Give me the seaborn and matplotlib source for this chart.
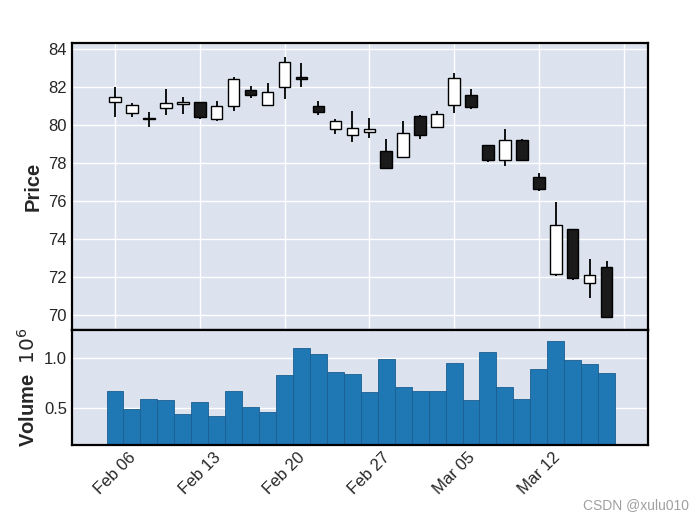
import matplotlib
matplotlib.use("Agg")
import numpy as np
import pandas as pd
import matplotlib.pyplot as plt
import seaborn as sns

# daily OHLC (30 trading days, Feb 06 - Mar 17)
opens = [81.21, 80.63, 80.37, 80.89, 81.11, 81.23, 80.35, 81.02, 81.86, 81.05,
         82.00, 82.53, 81.02, 79.82, 79.47, 79.63, 78.65, 78.32, 80.47, 79.89,
         81.05, 81.61, 78.95, 78.17, 79.21, 77.26, 72.15, 74.52, 71.68, 72.53]
highs = [82.00, 81.19, 80.68, 81.89, 81.47, 81.25, 81.26, 82.53, 82.09, 82.25,
         83.61, 83.26, 81.30, 80.32, 80.77, 80.40, 79.30, 80.21, 80.54, 80.77,
         82.77, 81.93, 78.98, 79.79, 79.26, 77.47, 75.98, 74.54, 72.98, 72.88]
lows = [80.46, 80.42, 79.89, 80.54, 80.60, 80.35, 80.21, 80.74, 81.46, 81.03,
        81.39, 82.00, 80.53, 79.54, 79.12, 79.32, 77.72, 78.30, 79.26, 79.87,
        80.66, 80.84, 78.05, 77.86, 78.14, 76.52, 72.08, 71.85, 70.91, 69.88]
closes = [81.51, 81.05, 80.33, 81.18, 81.25, 80.46, 81.02, 82.42, 81.58, 81.74,
          83.32, 82.42, 80.72, 80.21, 79.84, 79.81, 77.74, 79.58, 79.51, 80.58,
          82.47, 80.94, 78.16, 79.21, 78.16, 76.66, 74.73, 71.99, 72.14, 69.90]
# volume in millions
volumes = [0.673, 0.490, 0.592, 0.582, 0.439, 0.561, 0.418, 0.673, 0.510, 0.459,
           0.837, 1.102, 1.041, 0.867, 0.847, 0.663, 0.990, 0.714, 0.673, 0.673,
           0.959, 0.582, 1.061, 0.714, 0.592, 0.898, 1.173, 0.980, 0.949, 0.857]

tick_pos = [0, 5, 10, 15, 20, 25, 30]
tick_labels = ['Feb 06', 'Feb 13', 'Feb 20', 'Feb 27', 'Mar 05', 'Mar 12', '']

df = pd.DataFrame({'Open': opens, 'High': highs, 'Low': lows,
                   'Close': closes, 'Volume': volumes})
df['idx'] = np.arange(len(df))
print(df.head())

sns.set_theme(style="darkgrid", rc={
    "axes.facecolor": "#DCE3EF",
    "grid.color": "white",
    "grid.linewidth": 1.0,
    "axes.edgecolor": "black",
    "axes.linewidth": 1.6,
})
plt.rcParams['font.family'] = ['Liberation Sans', 'DejaVu Sans']

fig = plt.figure(figsize=(6.96, 5.2), dpi=100)
ax1 = fig.add_axes([0.1034, 0.3654, 0.8276, 0.5519])
ax2 = fig.add_axes([0.1034, 0.1442, 0.8276, 0.2212])

# candles
up = df['Close'] >= df['Open']
body_bottom = df[['Open', 'Close']].min(axis=1)
body_height = (df['Close'] - df['Open']).abs()
ax1.vlines(df['idx'], df['Low'], df['High'], color='black', linewidth=1.3, zorder=2)
ax1.bar(df['idx'], body_height, bottom=body_bottom, width=0.68,
        color=np.where(up, 'white', '#1a1a1a'), edgecolor='black', linewidth=1.0, zorder=3)

ax1.set_ylim(69.23, 84.33)
ax1.set_yticks(range(70, 85, 2))
ax1.set_ylabel('Price', fontsize=14.5, fontweight='bold')

# volume
sns.barplot(data=df, x='idx', y='Volume', width=1.0, color='#1f77b4', saturation=1,
            edgecolor='#1b5f91', linewidth=0.6, ax=ax2)
ax2.set_ylim(0.122, 1.289)
ax2.set_yticks([0.5, 1.0])
ax2.set_yticklabels(['0.5', '1.0'])
ax2.set_ylabel('Volume  $10^{6}$', fontsize=14.5, fontweight='bold')
ax2.set_xlabel('')

for ax in (ax1, ax2):
    ax.set_xlim(-2.54, 31.44)
    ax.set_xticks(tick_pos)
    ax.tick_params(length=0, labelsize=12, labelcolor='#262626')
    ax.set_axisbelow(True)
ax1.set_xticklabels([])
ax2.set_xticklabels(tick_labels, rotation=45, ha='center')

fig.text(0.99, 0.029, 'CSDN @xulu010', ha='right', va='center', fontsize=10, color='#a0a0a0')

fig.savefig('out.png', dpi=100)
